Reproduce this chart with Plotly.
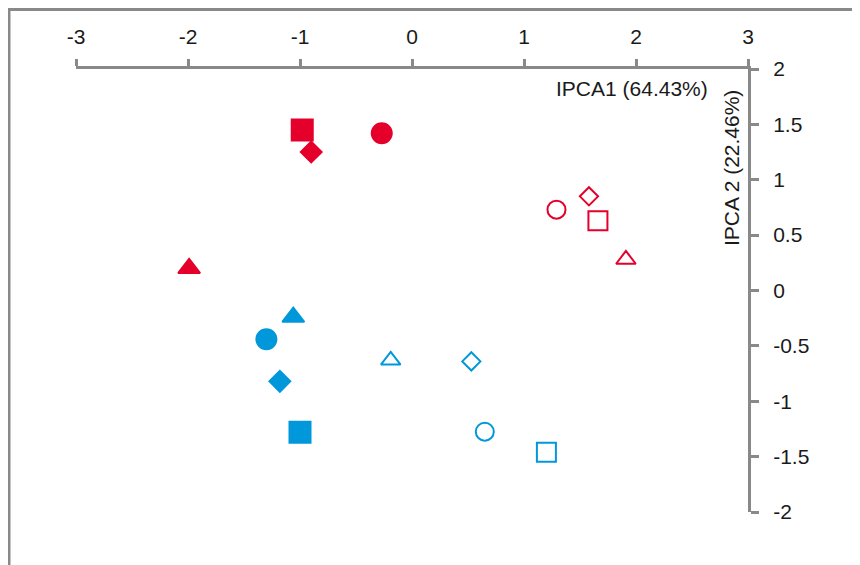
import plotly.graph_objects as go

# Data
red_filled_x = [-0.98, -0.90, -0.27, -1.99]
red_filled_y = [1.45, 1.25, 1.42, 0.20]
red_open_x = [1.29, 1.58, 1.66, 1.91]
red_open_y = [0.73, 0.85, 0.63, 0.28]
blue_filled_x = [-1.06, -1.30, -1.18, -1.00]
blue_filled_y = [-0.24, -0.44, -0.82, -1.28]
blue_open_x = [-0.19, 0.53, 0.65, 1.20]
blue_open_y = [-0.63, -0.64, -1.275, -1.46]

symbols_red_filled = ["square", "diamond", "circle", "triangle-up"]
symbols_red_open = ["circle-open", "diamond-open", "square-open", "triangle-up-open"]
symbols_blue_filled = ["triangle-up", "circle", "diamond", "square"]
symbols_blue_open = ["triangle-up-open", "diamond-open", "circle-open", "square-open"]

sizes = {"square": 21, "circle": 20, "diamond": 16, "triangle-up": 19,
         "square-open": 19, "circle-open": 18, "diamond-open": 14, "triangle-up-open": 17}

x_ticks = [-3, -2, -1, 0, 1, 2, 3]
x_tick_text = ["-3", "-2", "-1", "0", "1", "2", "3"]
y_ticks = [2, 1.5, 1, 0.5, 0, -0.5, -1, -1.5, -2]
y_tick_text = ["2", "1.5", "1", "0.5", "0", "-0.5", "-1", "-1.5", "-2"]

RED = "#E4002B"
BLUE = "#0098DA"

fig = go.Figure()

def add(xs, ys, syms, color):
    fig.add_trace(go.Scatter(
        x=xs, y=ys, mode="markers",
        marker=dict(symbol=syms, size=[sizes[s] for s in syms], color=color, opacity=1,
                    line=dict(color=color, width=2)),
        showlegend=False, hoverinfo="x+y"))

add(red_filled_x, red_filled_y, symbols_red_filled, RED)
add(red_open_x, red_open_y, symbols_red_open, RED)
add(blue_filled_x, blue_filled_y, symbols_blue_filled, BLUE)
add(blue_open_x, blue_open_y, symbols_blue_open, BLUE)

AX = "#898989"
font = dict(family="Liberation Sans, Arial, sans-serif", size=21, color="#1a1a1a")

fig.update_layout(
    width=860, height=565,
    margin=dict(l=68, r=120, t=61, b=61),
    paper_bgcolor="white", plot_bgcolor="white",
    font=font,
    xaxis=dict(range=[-3, 3], side="top", tickvals=x_ticks, ticktext=x_tick_text,
               showgrid=False, zeroline=False,
               showline=True, linecolor=AX, linewidth=3, ticks="outside", ticklen=7,
               tickwidth=3, tickcolor=AX, ticklabelstandoff=7, tickfont=font),
    yaxis=dict(range=[-2, 2], side="right", tickvals=y_ticks, ticktext=y_tick_text,
               showgrid=False, zeroline=False,
               showline=True, linecolor=AX, linewidth=3, ticks="outside", ticklen=8,
               tickwidth=3, tickcolor=AX, ticklabelstandoff=10, tickfont=font),
    annotations=[
        dict(text="IPCA1 (64.43%)", xref="paper", yref="paper", x=0.9435, y=0.957,
             xanchor="right", yanchor="middle", showarrow=False, font=font),
        dict(text="IPCA 2 (22.46%)", xref="paper", yref="paper", x=0.9747, y=0.957,
             xanchor="center", yanchor="top", textangle=-90, showarrow=False, font=font),
    ],
    shapes=[
        dict(type="rect", xref="paper", yref="paper", x0=-0.0997, y0=-0.25, x1=1.25, y1=1.1343,
             line=dict(color=AX, width=3), layer="below"),
    ],
)

fig.write_html("out.html")
